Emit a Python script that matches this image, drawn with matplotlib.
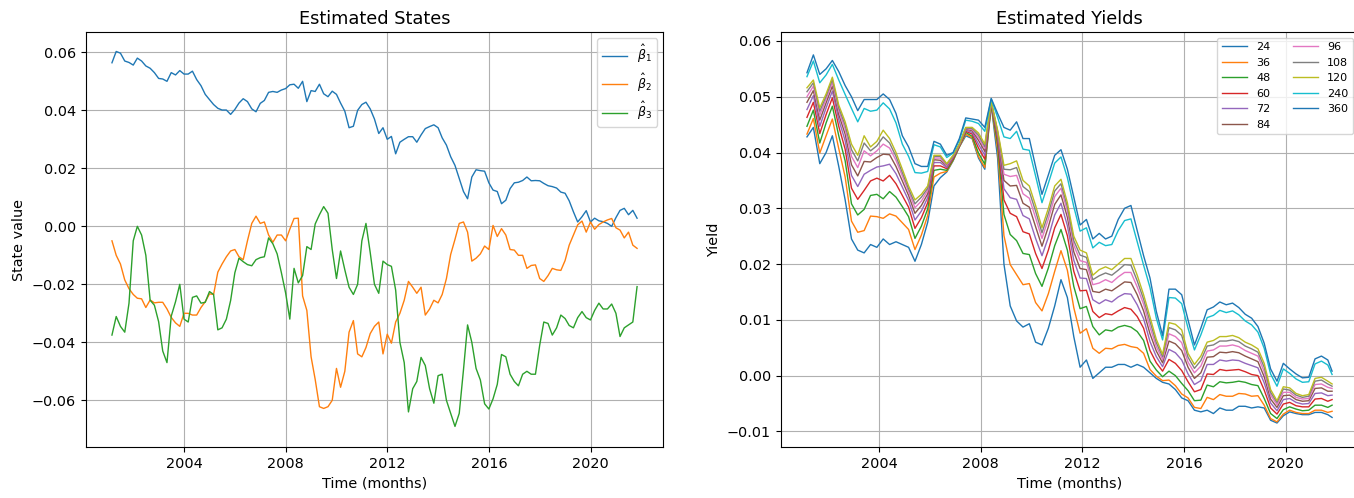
"""
plot.py

Estimated Nelson-Siegel states (left) and the fitted yield curves per
maturity (right), monthly sample Feb 2001 - Oct 2021.
"""

import numpy as np
import pandas as pd
import matplotlib

matplotlib.use("Agg")
import matplotlib.pyplot as plt
import matplotlib.dates as mdates

plt.rcParams["font.size"] = 10.4

# month-end dates of the sample
months = pd.date_range("2001-02-01", periods=249, freq="MS") + pd.offsets.MonthEnd(0)
state_dates = months[::2]  # states read every second month
yield_dates = months[list(range(0, 249, 3)) + [248]]  # yields read every quarter

# --- estimated states -------------------------------------------------------
beta1 = [
    0.0564, 0.0603, 0.0597, 0.0570, 0.0565, 0.0556,
    0.0580, 0.0570, 0.0553, 0.0545, 0.0530, 0.0510,
    0.0508, 0.0500, 0.0530, 0.0522, 0.0537, 0.0525,
    0.0525, 0.0535, 0.0506, 0.0485, 0.0455, 0.0437,
    0.0420, 0.0407, 0.0401, 0.0401, 0.0386, 0.0403,
    0.0425, 0.0440, 0.0430, 0.0405, 0.0395, 0.0424,
    0.0434, 0.0462, 0.0465, 0.0462, 0.0470, 0.0475,
    0.0488, 0.0490, 0.0476, 0.0500, 0.0430, 0.0468,
    0.0465, 0.0490, 0.0457, 0.0447, 0.0466, 0.0455,
    0.0425, 0.0397, 0.0340, 0.0345, 0.0400, 0.0420,
    0.0428, 0.0405, 0.0370, 0.0320, 0.0340, 0.0300,
    0.0310, 0.0250, 0.0290, 0.0300, 0.0309, 0.0309,
    0.0290, 0.0315, 0.0337, 0.0344, 0.0350, 0.0340,
    0.0305, 0.0280, 0.0240, 0.0210, 0.0165, 0.0120,
    0.0095, 0.0170, 0.0195, 0.0192, 0.0190, 0.0150,
    0.0125, 0.0120, 0.0078, 0.0090, 0.0130, 0.0150,
    0.0152, 0.0158, 0.0170, 0.0157, 0.0158, 0.0157,
    0.0148, 0.0140, 0.0137, 0.0132, 0.0118, 0.0114,
    0.0088, 0.0050, 0.0015, 0.0033, 0.0054, 0.0015,
    0.0028, 0.0019, 0.0016, 0.0010, 0.0000, 0.0030,
    0.0055, 0.0062, 0.0040, 0.0055, 0.0028,
]
beta2 = [
    -0.0050, -0.0100, -0.0130, -0.0185, -0.0215, -0.0235,
    -0.0248, -0.0250, -0.0280, -0.0254, -0.0264, -0.0262,
    -0.0262, -0.0285, -0.0314, -0.0333, -0.0345, -0.0300,
    -0.0300, -0.0306, -0.0306, -0.0280, -0.0260, -0.0233,
    -0.0235, -0.0158, -0.0130, -0.0105, -0.0085, -0.0080,
    -0.0105, -0.0115, -0.0050, 0.0010, 0.0035, 0.0010,
    0.0015, -0.0030, -0.0055, -0.0030, -0.0030, -0.0050,
    -0.0010, 0.0027, 0.0028, -0.0240, -0.0290, -0.0450,
    -0.0528, -0.0622, -0.0628, -0.0622, -0.0600, -0.0490,
    -0.0555, -0.0500, -0.0365, -0.0325, -0.0440, -0.0450,
    -0.0418, -0.0370, -0.0345, -0.0330, -0.0440, -0.0372,
    -0.0403, -0.0330, -0.0300, -0.0255, -0.0190, -0.0210,
    -0.0231, -0.0210, -0.0306, -0.0285, -0.0255, -0.0264,
    -0.0235, -0.0180, -0.0097, -0.0045, 0.0010, 0.0015,
    -0.0020, -0.0120, -0.0110, -0.0095, -0.0068, -0.0080,
    0.0003, -0.0035, -0.0008, -0.0030, -0.0080, -0.0082,
    -0.0100, -0.0100, -0.0145, -0.0135, -0.0133, -0.0180,
    -0.0190, -0.0170, -0.0145, -0.0150, -0.0152, -0.0118,
    -0.0065, -0.0030, 0.0005, 0.0018, -0.0020, 0.0015,
    -0.0010, 0.0006, 0.0015, 0.0022, 0.0027, -0.0005,
    -0.0013, -0.0040, -0.0020, -0.0065, -0.0076,
]
beta3 = [
    -0.0375, -0.0311, -0.0345, -0.0365, -0.0265, -0.0050,
    0.0000, -0.0030, -0.0100, -0.0255, -0.0272, -0.0329,
    -0.0430, -0.0470, -0.0310, -0.0260, -0.0200, -0.0320,
    -0.0330, -0.0245, -0.0240, -0.0265, -0.0262, -0.0225,
    -0.0235, -0.0357, -0.0350, -0.0320, -0.0256, -0.0160,
    -0.0110, -0.0122, -0.0132, -0.0136, -0.0115, -0.0108,
    -0.0105, -0.0040, -0.0060, -0.0095, -0.0160, -0.0230,
    -0.0320, -0.0145, -0.0195, -0.0170, -0.0070, -0.0080,
    0.0008, 0.0040, 0.0068, 0.0045, -0.0080, -0.0180,
    -0.0085, -0.0150, -0.0210, -0.0235, -0.0200, -0.0050,
    0.0010, -0.0090, -0.0200, -0.0231, -0.0120, -0.0132,
    -0.0138, -0.0220, -0.0400, -0.0470, -0.0640, -0.0560,
    -0.0535, -0.0452, -0.0480, -0.0560, -0.0610, -0.0515,
    -0.0510, -0.0600, -0.0645, -0.0690, -0.0645, -0.0495,
    -0.0340, -0.0400, -0.0490, -0.0530, -0.0612, -0.0630,
    -0.0595, -0.0545, -0.0442, -0.0450, -0.0510, -0.0535,
    -0.0550, -0.0510, -0.0500, -0.0510, -0.0510, -0.0410,
    -0.0330, -0.0335, -0.0375, -0.0350, -0.0306, -0.0318,
    -0.0342, -0.0350, -0.0315, -0.0294, -0.0315, -0.0323,
    -0.0290, -0.0265, -0.0285, -0.0285, -0.0268, -0.0300,
    -0.0380, -0.0350, -0.0340, -0.0330, -0.0208,
]
state_labels = [r"$\hat{\beta}_1$", r"$\hat{\beta}_2$", r"$\hat{\beta}_3$"]

# --- estimated yields, in percent ---------------------------------------------
maturities = [24, 36, 48, 60, 72, 84, 96, 108, 120, 240, 360]
y024 = [
    4.28, 4.45, 3.80, 4.00, 4.30, 3.75, 3.15, 2.45, 2.25, 2.20,
    2.35, 2.30, 2.45, 2.35, 2.40, 2.35, 2.30, 2.05, 2.35, 2.75,
    3.40, 3.55, 3.65, 3.85, 4.10, 4.30, 4.25, 3.90, 3.70, 4.85,
    3.90, 2.00, 1.25, 0.98, 0.87, 0.93, 0.60, 0.55, 0.85, 1.25,
    1.72, 1.40, 0.70, 0.15, 0.28, -0.05, 0.05, 0.15, 0.15, 0.20,
    0.20, 0.15, 0.20, 0.15, 0.05, -0.05, -0.12, -0.15, -0.25, -0.40,
    -0.45, -0.62, -0.65, -0.62, -0.68, -0.58, -0.62, -0.62, -0.55, -0.55,
    -0.58, -0.56, -0.58, -0.80, -0.85, -0.72, -0.65, -0.68, -0.70, -0.70,
    -0.66, -0.66, -0.70, -0.75,
]
y036 = [
    4.33, 4.61, 3.99, 4.30, 4.60, 4.07, 3.56, 2.77, 2.57, 2.60,
    2.86, 2.85, 2.82, 2.90, 2.86, 2.74, 2.62, 2.26, 2.52, 2.87,
    3.56, 3.63, 3.66, 3.86, 4.10, 4.33, 4.26, 3.93, 3.73, 4.85,
    4.05, 2.51, 1.99, 1.81, 1.63, 1.65, 1.31, 1.16, 1.47, 1.87,
    2.24, 1.89, 1.22, 0.76, 0.84, 0.49, 0.40, 0.49, 0.48, 0.54,
    0.56, 0.52, 0.50, 0.40, 0.11, -0.01, -0.09, -0.08, -0.18, -0.33,
    -0.40, -0.57, -0.59, -0.39, -0.43, -0.34, -0.37, -0.37, -0.32, -0.33,
    -0.37, -0.36, -0.53, -0.77, -0.83, -0.69, -0.62, -0.66, -0.68, -0.68,
    -0.62, -0.62, -0.66, -0.64,
]
y048 = [
    4.47, 4.76, 4.17, 4.53, 4.83, 4.30, 3.85, 3.08, 2.88, 2.98,
    3.23, 3.25, 3.17, 3.30, 3.20, 3.03, 2.85, 2.46, 2.68, 2.99,
    3.68, 3.70, 3.68, 3.87, 4.11, 4.36, 4.29, 3.99, 3.79, 4.86,
    4.15, 2.89, 2.53, 2.42, 2.19, 2.17, 1.83, 1.60, 1.93, 2.33,
    2.62, 2.25, 1.60, 1.20, 1.24, 0.88, 0.73, 0.82, 0.80, 0.87,
    0.90, 0.87, 0.79, 0.63, 0.26, 0.10, -0.02, 0.08, 0.00, -0.14,
    -0.27, -0.45, -0.44, -0.17, -0.20, -0.11, -0.13, -0.12, -0.10, -0.12,
    -0.16, -0.18, -0.41, -0.68, -0.77, -0.61, -0.56, -0.60, -0.63, -0.62,
    -0.53, -0.53, -0.57, -0.53,
]
y060 = [
    4.63, 4.90, 4.34, 4.68, 4.98, 4.47, 4.06, 3.36, 3.16, 3.32,
    3.49, 3.54, 3.49, 3.59, 3.44, 3.23, 3.02, 2.64, 2.83, 3.10,
    3.76, 3.76, 3.71, 3.89, 4.12, 4.38, 4.33, 4.08, 3.88, 4.88,
    4.23, 3.15, 2.91, 2.85, 2.58, 2.54, 2.19, 1.92, 2.25, 2.65,
    2.89, 2.51, 1.87, 1.52, 1.53, 1.15, 1.04, 1.11, 1.09, 1.16,
    1.22, 1.19, 1.06, 0.85, 0.45, 0.23, 0.08, 0.29, 0.22, 0.09,
    -0.11, -0.29, -0.25, 0.03, 0.02, 0.11, 0.09, 0.10, 0.11, 0.07,
    0.02, 0.00, -0.26, -0.58, -0.69, -0.51, -0.48, -0.54, -0.56, -0.56,
    -0.42, -0.41, -0.46, -0.43,
]
y072 = [
    4.77, 5.02, 4.47, 4.80, 5.10, 4.59, 4.21, 3.59, 3.39, 3.61,
    3.68, 3.74, 3.76, 3.79, 3.62, 3.38, 3.14, 2.79, 2.95, 3.19,
    3.82, 3.82, 3.73, 3.91, 4.13, 4.40, 4.36, 4.15, 3.95, 4.89,
    4.28, 3.35, 3.19, 3.16, 2.87, 2.81, 2.46, 2.15, 2.48, 2.88,
    3.09, 2.69, 2.07, 1.75, 1.74, 1.36, 1.29, 1.36, 1.32, 1.41,
    1.47, 1.46, 1.27, 1.02, 0.61, 0.34, 0.16, 0.47, 0.41, 0.28,
    0.03, -0.16, -0.09, 0.20, 0.20, 0.28, 0.26, 0.28, 0.27, 0.22,
    0.18, 0.14, -0.13, -0.49, -0.63, -0.43, -0.41, -0.48, -0.51, -0.50,
    -0.32, -0.31, -0.36, -0.35,
]
y084 = [
    4.90, 5.11, 4.58, 4.89, 5.19, 4.68, 4.33, 3.78, 3.58, 3.84,
    3.83, 3.91, 3.97, 3.96, 3.75, 3.49, 3.23, 2.91, 3.05, 3.26,
    3.87, 3.86, 3.76, 3.92, 4.14, 4.42, 4.39, 4.22, 4.02, 4.90,
    4.32, 3.50, 3.40, 3.41, 3.09, 3.02, 2.67, 2.32, 2.67, 3.07,
    3.24, 2.84, 2.22, 1.92, 1.90, 1.51, 1.49, 1.55, 1.52, 1.60,
    1.68, 1.67, 1.45, 1.16, 0.75, 0.44, 0.23, 0.62, 0.57, 0.45,
    0.15, -0.05, 0.05, 0.33, 0.34, 0.42, 0.41, 0.43, 0.41, 0.35,
    0.30, 0.25, -0.02, -0.42, -0.57, -0.36, -0.35, -0.43, -0.46, -0.45,
    -0.23, -0.22, -0.28, -0.28,
]
y096 = [
    5.00, 5.19, 4.67, 4.96, 5.26, 4.75, 4.42, 3.93, 3.73, 4.03,
    3.94, 4.03, 4.15, 4.08, 3.86, 3.58, 3.30, 3.01, 3.13, 3.32,
    3.90, 3.90, 3.77, 3.93, 4.14, 4.43, 4.41, 4.27, 4.07, 4.91,
    4.36, 3.61, 3.57, 3.59, 3.26, 3.18, 2.83, 2.46, 2.81, 3.21,
    3.36, 2.95, 2.34, 2.06, 2.03, 1.63, 1.66, 1.72, 1.67, 1.77,
    1.85, 1.85, 1.59, 1.28, 0.87, 0.52, 0.29, 0.75, 0.70, 0.59,
    0.24, 0.05, 0.17, 0.44, 0.46, 0.53, 0.53, 0.55, 0.52, 0.45,
    0.40, 0.35, 0.07, -0.35, -0.52, -0.30, -0.30, -0.39, -0.42, -0.41,
    -0.16, -0.15, -0.21, -0.23,
]
y108 = [
    5.09, 5.25, 4.74, 5.01, 5.31, 4.80, 4.49, 4.05, 3.85, 4.17,
    4.03, 4.12, 4.28, 4.17, 3.93, 3.64, 3.35, 3.08, 3.20, 3.36,
    3.93, 3.93, 3.79, 3.94, 4.15, 4.44, 4.43, 4.31, 4.11, 4.91,
    4.38, 3.70, 3.69, 3.73, 3.39, 3.30, 2.95, 2.56, 2.91, 3.31,
    3.44, 3.03, 2.42, 2.16, 2.12, 1.72, 1.79, 1.84, 1.80, 1.89,
    1.99, 1.98, 1.70, 1.37, 0.97, 0.59, 0.34, 0.86, 0.82, 0.72,
    0.33, 0.13, 0.27, 0.53, 0.55, 0.62, 0.62, 0.64, 0.61, 0.53,
    0.48, 0.42, 0.15, -0.30, -0.48, -0.24, -0.26, -0.35, -0.39, -0.37,
    -0.10, -0.08, -0.15, -0.19,
]
y120 = [
    5.16, 5.30, 4.80, 5.05, 5.35, 4.85, 4.55, 4.15, 3.95, 4.30,
    4.10, 4.20, 4.40, 4.25, 4.00, 3.70, 3.40, 3.15, 3.25, 3.40,
    3.95, 3.95, 3.80, 3.95, 4.15, 4.45, 4.45, 4.35, 4.15, 4.92,
    4.40, 3.77, 3.80, 3.85, 3.50, 3.40, 3.05, 2.65, 3.00, 3.40,
    3.52, 3.10, 2.50, 2.25, 2.20, 1.80, 1.90, 1.95, 1.90, 2.00,
    2.10, 2.10, 1.80, 1.45, 1.05, 0.65, 0.38, 0.95, 0.92, 0.82,
    0.40, 0.20, 0.35, 0.60, 0.63, 0.70, 0.70, 0.72, 0.68, 0.60,
    0.55, 0.48, 0.22, -0.25, -0.45, -0.20, -0.22, -0.32, -0.36, -0.34,
    -0.05, -0.03, -0.10, -0.15,
]
y240 = [
    5.36, 5.64, 5.25, 5.39, 5.58, 5.30, 5.04, 4.79, 4.55, 4.79,
    4.74, 4.76, 4.89, 4.78, 4.53, 4.15, 3.93, 3.64, 3.63, 3.66,
    4.14, 4.10, 3.91, 3.99, 4.22, 4.58, 4.56, 4.52, 4.38, 4.96,
    4.63, 4.28, 4.25, 4.38, 4.06, 4.04, 3.58, 3.10, 3.45, 3.81,
    3.92, 3.55, 3.03, 2.59, 2.65, 2.29, 2.39, 2.33, 2.35, 2.60,
    2.78, 2.81, 2.40, 1.98, 1.58, 1.03, 0.64, 1.40, 1.39, 1.29,
    0.85, 0.46, 0.73, 1.04, 1.08, 1.17, 1.13, 1.16, 1.09, 0.98,
    0.91, 0.78, 0.49, 0.03, -0.19, 0.12, 0.04, -0.06, -0.12, -0.11,
    0.21, 0.26, 0.19, 0.02,
]
y360 = [
    5.43, 5.75, 5.40, 5.50, 5.65, 5.45, 5.20, 5.00, 4.75, 4.95,
    4.95, 4.95, 5.05, 4.95, 4.70, 4.30, 4.10, 3.80, 3.75, 3.75,
    4.20, 4.15, 3.95, 4.00, 4.25, 4.62, 4.60, 4.58, 4.45, 4.97,
    4.70, 4.45, 4.40, 4.55, 4.25, 4.25, 3.75, 3.25, 3.60, 3.95,
    4.05, 3.70, 3.20, 2.70, 2.80, 2.45, 2.55, 2.45, 2.50, 2.80,
    3.00, 3.05, 2.60, 2.15, 1.75, 1.15, 0.72, 1.55, 1.55, 1.45,
    1.00, 0.55, 0.85, 1.18, 1.23, 1.32, 1.27, 1.30, 1.22, 1.10,
    1.03, 0.88, 0.58, 0.12, -0.10, 0.22, 0.12, 0.03, -0.04, -0.03,
    0.30, 0.35, 0.28, 0.08,
]
yield_curves = [y024, y036, y048, y060, y072, y084, y096, y108, y120, y240, y360]


def _plot_states(ax):
    """Left panel: the three filtered factors."""
    for values, label in zip([beta1, beta2, beta3], state_labels):
        ax.plot(state_dates, values, label=label, linewidth=1.0)
    ax.set_title("Estimated States", fontsize=12.8)
    ax.set_xlabel("Time (months)")
    ax.set_ylabel("State value")
    ax.set_ylim(-0.0761, 0.0670)
    ax.grid(True)
    ax.legend(loc="upper right", fontsize=9)


def _plot_yields(ax):
    """Right panel: fitted yield per maturity."""
    for values, tau in zip(yield_curves, maturities):
        ax.plot(yield_dates, np.array(values) / 100.0, label=str(tau), linewidth=1.0)
    ax.set_title("Estimated Yields", fontsize=12.8)
    ax.set_xlabel("Time (months)")
    ax.set_ylabel("Yield")
    ax.set_ylim(-0.0128, 0.0616)
    ax.grid(True)
    ax.legend(loc="upper right", ncol=2, fontsize=8, handlelength=2.3)


fig = plt.figure(figsize=(13.54, 4.98), dpi=100)
ax_states = fig.add_axes([0.0633, 0.1024, 0.4266, 0.8333])
ax_yields = fig.add_axes([0.5766, 0.1024, 0.4266, 0.8333])

_plot_states(ax_states)
_plot_yields(ax_yields)

for ax in (ax_states, ax_yields):
    ax.xaxis.set_major_locator(mdates.YearLocator(4))
    ax.xaxis.set_major_formatter(mdates.DateFormatter("%Y"))

fig.savefig("out.png", dpi=100)
